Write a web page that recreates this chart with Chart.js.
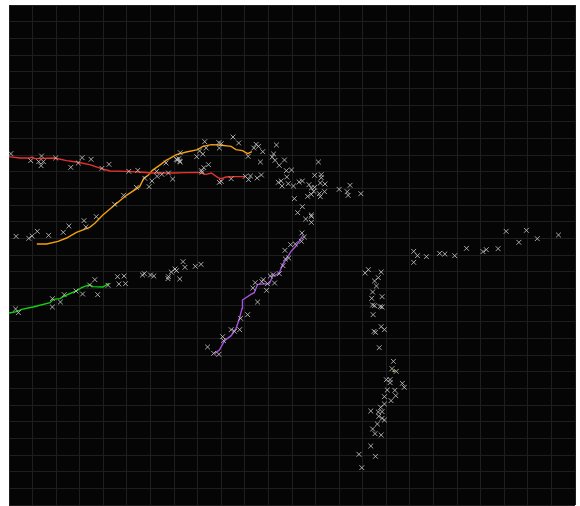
<!DOCTYPE html>
<html>
<head>
<meta charset="utf-8">
<script src="https://cdn.jsdelivr.net/npm/chart.js@4/dist/chart.umd.min.js"></script>
<style>
html,body{margin:0;padding:0;background:#ffffff;overflow:hidden;}
#wrap{position:relative;width:580px;height:510px;}
</style>
</head>
<body>
<div id="wrap"><canvas id="c"></canvas></div>
<script>
// Axis extents (grid every 50 units)
const xRange = [0, 1200];
const yRange = [0, 1500];
const gridStep = 50;

// Detections (x marks)
const detX = [4,46,69,63,73,68,99,155,174,131,147,212,197,254,273,363,357,362,398,333,313,324,338,314,303,288,297,347,270,243,224,185,159,163,127,115,84,60,49,42,15,
475,415,445,450,446,418,404,487,524,529,519,538,567,411,360,363,355,423,413,408,561,558,564,584,573,533,507,656,588,599,535,526,512,508,501,471,450,446,409,589,571,577,579,592,603,615,622,636,648,662,662,660,670,648,641,646,641,633,669,658,660,605,622,612,641,641,629,641,700,717,719,723,746,
621,626,620,597,607,585,586,593,581,573,554,560,563,539,536,548,522,517,546,527,506,491,489,478,471,453,455,421,434,445,395,407,
14,20,92,92,109,117,142,156,171,182,188,210,230,244,233,247,283,287,300,307,337,338,344,352,355,369,373,362,
762,755,789,783,775,779,858,866,858,885,913,924,945,970,1005,1012,1037,1054,1081,1097,1120,1165,
771,791,769,771,775,787,791,772,789,796,774,777,785,815,812,821,800,808,808,834,838,802,818,820,796,810,796,788,767,783,791,784,791,796,781,771,776,789,767,742,777,748];
const detY = [446,467,453,470,470,482,459,458,463,487,474,478,490,499,496,443,465,468,455,474,499,508,504,514,528,520,545,522,547,571,598,635,647,666,663,682,691,679,693,700,694,
396,410,413,416,429,429,438,414,418,424,429,440,420,447,461,471,463,479,488,497,447,456,466,465,481,471,454,471,497,495,510,519,513,524,514,521,529,532,502,516,532,528,543,536,543,531,528,539,511,509,518,534,537,547,549,559,568,574,560,566,575,581,605,623,630,634,642,652,553,560,571,541,566,
684,696,709,719,717,736,762,759,782,806,813,809,834,824,830,836,833,849,856,891,929,940,974,979,974,995,1007,1026,1045,1048,784,778,
912,923,881,906,891,869,858,867,840,824,869,841,815,813,837,836,810,806,810,813,821,815,801,792,797,770,787,822,
794,804,801,818,828,843,739,752,772,755,745,747,752,730,740,734,731,679,712,676,701,690,
861,875,880,900,902,905,906,929,965,974,979,982,1028,1069,1091,1099,1124,1124,1133,1135,1147,1155,1156,1172,1175,1187,1197,1207,1218,1221,1220,1234,1240,1245,1257,1272,1286,1290,1323,1348,1354,1388];

// Tracks
const redX = [0,23,44,49,55,97,122,143,171,196,214,249,277,302,326,347,376,400,418,429,443,450,460,481,501];
const redY = [455,459,459,456,461,459,467,471,479,491,498,499,501,504,504,504,503,502,508,504,518,521,516,515,515];
const orangeX = [59,80,104,122,143,171,182,199,224,249,277,286,295,304,319,333,340,355,376,400,411,429,446,471,481,495,506,515];
const orangeY = [717,717,709,699,682,667,655,630,600,571,545,519,511,496,481,466,461,449,441,434,424,419,420,424,434,437,446,440];
const greenX = [0,16,27,51,87,94,108,122,143,154,171,178,199,212];
const greenY = [924,920,913,906,893,883,881,870,858,848,839,845,846,835];
const purpleX = [436,446,457,471,481,488,494,495,513,520,527,552,559,567,573,580,587,598,608,615,622];
const purpleY = [1045,1035,1007,992,972,943,911,885,868,863,838,836,813,809,804,779,764,739,724,709,694];
const limeX = [813,818];
const limeY = [1099,1099];

const toPts = (xs, ys) => xs.map((x, i) => ({x: x, y: ys[i]}));

const bgPlugin = {
  id: 'bg',
  beforeDraw(chart) {
    const {ctx, chartArea: a} = chart;
    ctx.save();
    ctx.fillStyle = '#050505';
    ctx.fillRect(a.left, a.top, a.right - a.left, a.bottom - a.top);
    ctx.restore();
  }
};

const lineDs = (label, xs, ys, color) => ({
  label: label,
  data: toPts(xs, ys),
  showLine: true,
  borderColor: color,
  backgroundColor: color,
  borderWidth: 1.4,
  pointRadius: 0,
  tension: 0
});

new Chart(document.getElementById('c'), {
  type: 'scatter',
  data: {
    datasets: [
      {
        label: 'detections',
        data: toPts(detX, detY),
        pointStyle: 'crossRot',
        pointRadius: 3.4,
        borderWidth: 1,
        borderColor: 'rgba(205,205,205,0.8)',
        backgroundColor: 'rgba(205,205,205,0.8)'
      },
      lineDs('track 1', redX, redY, '#e8322c'),
      lineDs('track 2', orangeX, orangeY, '#f2a010'),
      lineDs('track 3', greenX, greenY, '#12d012'),
      lineDs('track 4', purpleX, purpleY, '#a851e0'),
      lineDs('track 5', limeX, limeY, '#a8d030')
    ]
  },
  options: {
    responsive: true,
    maintainAspectRatio: false,
    animation: false,
    layout: {padding: {left: 9, top: 5, right: 3, bottom: 1}},
    plugins: {legend: {display: false}, tooltip: {enabled: false}},
    scales: {
      x: {
        type: 'linear',
        min: xRange[0], max: xRange[1],
        ticks: {display: false, stepSize: gridStep},
        grid: {color: '#1e1e1e', lineWidth: 1, drawTicks: false},
        border: {display: false}
      },
      y: {
        type: 'linear',
        reverse: true,
        min: yRange[0], max: yRange[1],
        ticks: {display: false, stepSize: gridStep},
        grid: {color: '#1e1e1e', lineWidth: 1, drawTicks: false},
        border: {display: false}
      }
    }
  },
  plugins: [bgPlugin]
});
</script>
</body>
</html>
